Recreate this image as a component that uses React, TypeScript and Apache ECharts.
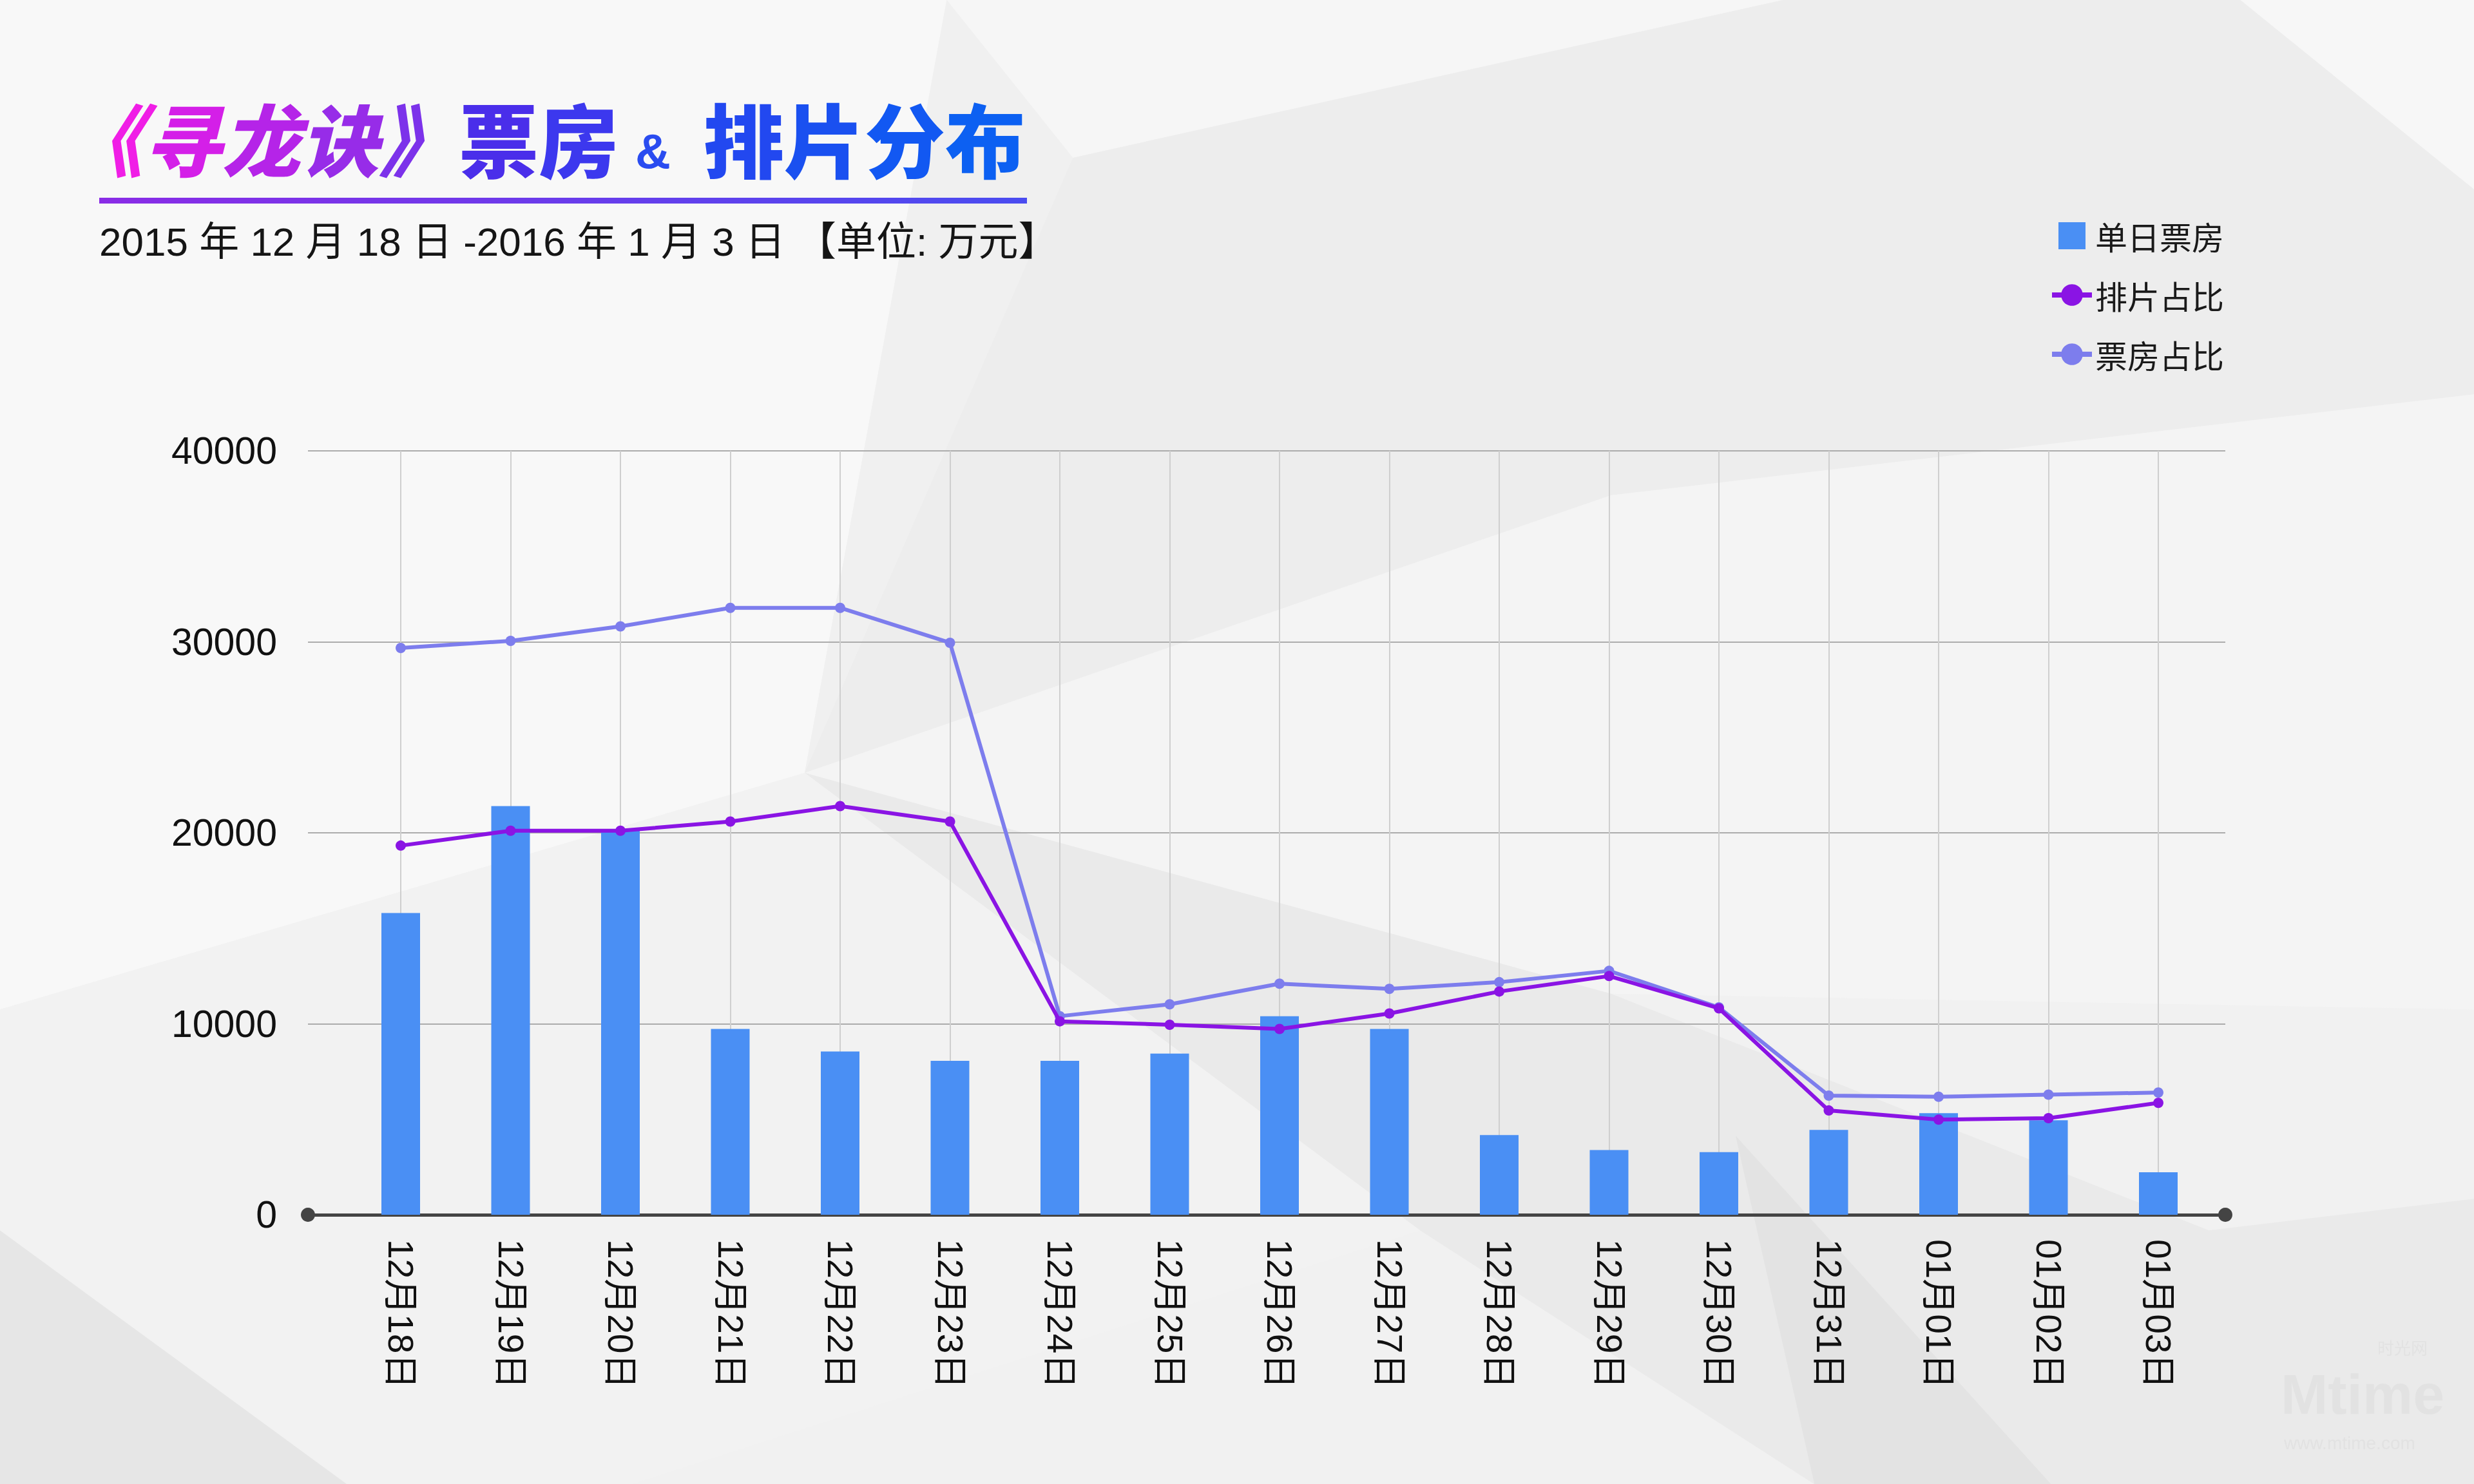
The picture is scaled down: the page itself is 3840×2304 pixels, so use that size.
import React, { useEffect, useRef } from 'react';
import * as echarts from 'echarts';

const categories = ['12月18日', '12月19日', '12月20日', '12月21日', '12月22日', '12月23日', '12月24日', '12月25日', '12月26日', '12月27日', '12月28日', '12月29日', '12月30日', '12月31日', '01月01日', '01月02日', '01月03日'];
const dailyBoxOffice = [15800, 21400, 20200, 9730, 8550, 8060, 8060, 8440, 10400, 9730, 4170, 3390, 3280, 4440, 5320, 4950, 2230];
const screeningShare = [19330, 20110, 20110, 20590, 21400, 20590, 10130, 9950, 9730, 10540, 11690, 12500, 10810, 5460, 4980, 5060, 5860];
const boxOfficeShare = [29680, 30050, 30810, 31780, 31780, 29950, 10400, 11020, 12100, 11830, 12180, 12770, 10860, 6240, 6180, 6290, 6400];
const yMin = 0;
const yMax = 40000;
const yInterval = 10000;

const seriesNames = ['单日票房', '排片占比', '票房占比'];
const titleA = ['《', '寻', '龙', '诀', '》'];
const titleB = ['票', '房'];
const titleAmp = '&';
const titleC = ['排', '片', '分', '布'];
const subtitle = '2015 年 12 月 18 日 -2016 年 1 月 3 日 【单位: 万元】';

const K = 2.449;
const P = (pts: number[][]) => pts.map(([x, y]) => [x * K, y * K]);

const bgPolys: { pts: number[][]; fill: string }[] = [
  { pts: [[0, 0], [600, 0], [510, 490], [0, 640]], fill: '#f8f8f8' },
  { pts: [[600, 0], [1130, 0], [680, 100]], fill: '#f6f6f6' },
  { pts: [[600, 0], [680, 100], [510, 490]], fill: '#f0f0f0' },
  { pts: [[680, 100], [1130, 0], [1420, 0], [1568, 120], [1568, 250], [1021, 314], [510, 490]], fill: '#ededed' },
  { pts: [[1420, 0], [1568, 0], [1568, 120]], fill: '#f7f7f7' },
  { pts: [[510, 490], [1021, 314], [1568, 250], [1568, 640], [1021, 630]], fill: '#f4f4f4' },
  { pts: [[510, 490], [1021, 630], [1400, 780], [1568, 760], [1568, 941], [1150, 941], [900, 780]], fill: '#eaeaea' },
  { pts: [[0, 640], [510, 490], [900, 780], [400, 941], [0, 941]], fill: '#f2f2f2' },
  { pts: [[0, 780], [220, 941], [0, 941]], fill: '#e6e6e6' },
  { pts: [[1100, 720], [1300, 941], [1150, 941]], fill: '#e3e3e3' },
];

export default function App() {
  const ref = useRef<HTMLDivElement>(null);
  useEffect(() => {
    const chart = echarts.init(ref.current!, null, { renderer: 'svg' });
    const cjk = '"Noto Sans CJK SC", sans-serif';
    const latin = '"Liberation Sans", "Noto Sans CJK SC", sans-serif';
    const rich = (chars: string[], colors: string[], size: number, extra: any = {}) => {
      const r: any = {};
      chars.forEach((c, i) => {
        r['c' + i] = { fill: colors[i], fontSize: size, fontWeight: 900, fontFamily: cjk, ...extra };
      });
      return { text: chars.map((c, i) => `{c${i}|${c}}`).join(''), rich: r, fontSize: size, fontWeight: 900, fontFamily: cjk, ...extra };
    };
    const graphic: any[] = [
      { type: 'rect', z: -100, silent: true, shape: { x: 0, y: 0, width: 3840, height: 2304 }, style: { fill: '#f1f1f1' } },
      ...bgPolys.map((p) => ({ type: 'polygon', z: -90, silent: true, shape: { points: P(p.pts) }, style: { fill: p.fill } })),
      {
        type: 'text', left: 100, top: 150, z: 10,
        style: rich(titleA, ['#f01ee6', '#d41fe8', '#b524e8', '#972ce8', '#7c32ea'], 122, { fontStyle: 'italic' }),
      },
      {
        type: 'text', left: 712, top: 150, z: 10,
        style: rich(titleB, ['#4a2eea', '#3c38ee'], 124),
      },
      {
        type: 'text', left: 986, top: 196, z: 10,
        style: { text: titleAmp, fontSize: 76, fontWeight: 'bold', fontFamily: latin, fill: '#2a4cf0' },
      },
      {
        type: 'text', left: 1092, top: 150, z: 10,
        style: rich(titleC, ['#2248f0', '#1a50f0', '#1258f2', '#0c60f2'], 125),
      },
      {
        type: 'rect', z: 10, shape: { x: 154, y: 307, width: 1440, height: 9 },
        style: { fill: new echarts.graphic.LinearGradient(0, 0, 1, 0, [{ offset: 0, color: '#8a2ce6' }, { offset: 1, color: '#4a4cf0' }]) },
      },
      {
        type: 'text', left: 154, top: 344, z: 10,
        style: { text: subtitle, fontSize: 62, fontFamily: latin, fill: '#151515' },
      },
      {
        type: 'text', left: 3690, top: 2078, z: 10, silent: true,
        style: { text: '时光网', fontSize: 26, fontFamily: cjk, fill: '#e2e2e2' },
      },
      {
        type: 'text', left: 3540, top: 2120, z: 10, silent: true,
        style: { text: 'Mtime', fontSize: 88, fontWeight: 'bold', fontFamily: latin, fill: '#e2e2e2' },
      },
      {
        type: 'text', left: 3545, top: 2226, z: 10, silent: true,
        style: { text: 'www.mtime.com', fontSize: 28, fontFamily: latin, fill: '#e2e2e2' },
      },
    ];

    chart.setOption({
      animation: false,
      backgroundColor: 'transparent',
      graphic,
      legend: {
        orient: 'vertical', left: 3176, top: 336, itemWidth: 62, itemHeight: 42, itemGap: 42,
        textStyle: { fontSize: 50, fontFamily: cjk, color: '#1a1a1a' },
        data: [
          { name: seriesNames[0], icon: 'path://M0,0H10V10H0Z' },
          { name: seriesNames[1], itemStyle: { borderWidth: 0 }, lineStyle: { width: 8 } },
          { name: seriesNames[2], itemStyle: { borderWidth: 0 }, lineStyle: { width: 8 } },
        ],
      },
      grid: [
        { left: 478, right: 386, top: 700, bottom: 418 },
        { left: 622, right: 490, top: 700, bottom: 418 },
      ],
      xAxis: [
        {
          gridIndex: 0, type: 'value', min: 0, max: 1,
          axisLabel: { show: false }, axisTick: { show: false }, splitLine: { show: false },
          axisLine: { show: true, symbol: ['circle', 'circle'], symbolSize: [22, 22], lineStyle: { color: '#444', width: 5 } },
        },
        {
          gridIndex: 1, type: 'category', data: categories, boundaryGap: false,
          axisLine: { show: false }, axisTick: { show: false },
          axisLabel: { rotate: -90, margin: 38, fontSize: 55, fontFamily: latin, color: '#111', interval: 0 },
          splitLine: { show: true, lineStyle: { color: '#cfcfcf', width: 2 } },
        },
      ],
      yAxis: [
        {
          gridIndex: 0, type: 'value', min: yMin, max: yMax, interval: yInterval,
          axisLine: { show: false }, axisTick: { show: false },
          axisLabel: { fontSize: 59, fontFamily: latin, color: '#111', margin: 48, formatter: (v: number) => String(v) },
          splitLine: { show: true, lineStyle: { color: '#acacac', width: 2 } },
        },
        {
          gridIndex: 1, type: 'value', min: yMin, max: yMax, interval: yInterval,
          axisLine: { show: false }, axisTick: { show: false }, axisLabel: { show: false }, splitLine: { show: false },
        },
      ],
      series: [
        {
          name: seriesNames[0], type: 'bar', xAxisIndex: 1, yAxisIndex: 1, data: dailyBoxOffice,
          barWidth: 60, clip: false, itemStyle: { color: '#4a8ff4' }, z: 2,
        },
        {
          name: seriesNames[1], type: 'line', xAxisIndex: 1, yAxisIndex: 1, data: screeningShare,
          symbol: 'circle', symbolSize: 16, itemStyle: { color: '#8a14e4' }, lineStyle: { width: 6, color: '#8a14e4' }, z: 4,
        },
        {
          name: seriesNames[2], type: 'line', xAxisIndex: 1, yAxisIndex: 1, data: boxOfficeShare,
          symbol: 'circle', symbolSize: 16, itemStyle: { color: '#7d7ded' }, lineStyle: { width: 6, color: '#7d7ded' }, z: 3,
        },
      ],
    });
    return () => chart.dispose();
  }, []);
  return <div ref={ref} style={{ position: 'fixed', left: 0, top: 0, width: 3840, height: 2304 }} />;
}
